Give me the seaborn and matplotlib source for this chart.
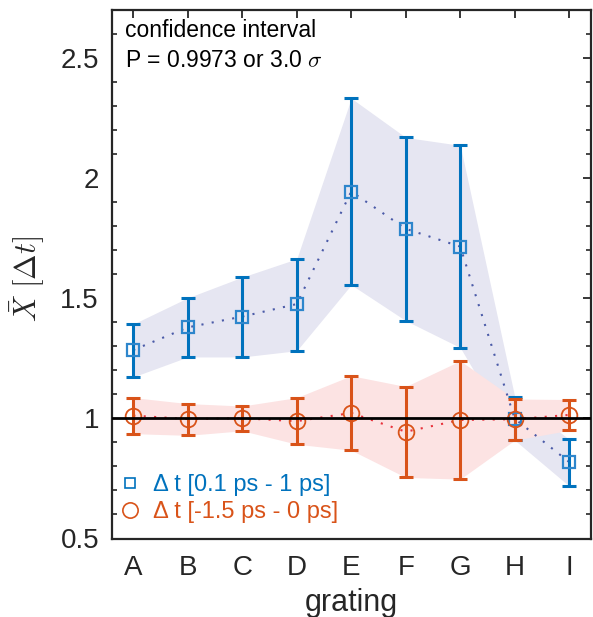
import numpy as np
import pandas as pd
import matplotlib
matplotlib.use("Agg")
import matplotlib.pyplot as plt
import seaborn as sns
from matplotlib.ticker import MultipleLocator

gratings = ["A", "B", "C", "D", "E", "F", "G", "H", "I"]
blue_mean = [1.284, 1.378, 1.423, 1.475, 1.943, 1.788, 1.714, 0.998, 0.818]
blue_low = [1.172, 1.255, 1.255, 1.281, 1.555, 1.406, 1.294, 0.909, 0.718]
blue_high = [1.392, 1.501, 1.587, 1.663, 2.331, 2.168, 2.135, 1.090, 0.912]
red_mean = [1.011, 0.997, 1.000, 0.988, 1.022, 0.944, 0.993, 0.996, 1.014]
red_low = [0.936, 0.929, 0.948, 0.892, 0.867, 0.754, 0.747, 0.909, 0.950]
red_high = [1.086, 1.061, 1.051, 1.086, 1.177, 1.132, 1.239, 1.080, 1.078]
label_blue = "\u0394 t [0.1 ps - 1 ps]"
label_red = "\u0394 t [-1.5 ps - 0 ps]"

sns.set_theme(style="white")
plt.rcParams["font.family"] = ["Liberation Sans", "DejaVu Sans"]
plt.rcParams["mathtext.fontset"] = "cm"

BLUE = "#0072BD"
RED = "#D95319"
TXT = "#262626"

x = np.arange(1, len(gratings) + 1)
df = pd.DataFrame({"x": np.concatenate([x, x]),
                   "y": blue_mean + red_mean,
                   "series": ["blue"] * len(x) + ["red"] * len(x)})

fig = plt.figure(figsize=(5.93, 6.17), dpi=100)
ax = fig.add_axes([111.5 / 593, 1 - 538.5 / 617, (591 - 111.5) / 593, (538.5 - 9.5) / 617])

ax.fill_between(x, blue_low, blue_high, color="#E6E6F2", lw=0, zorder=1)
ax.fill_between(x, red_low, red_high, color="#FCE3E3", lw=0, zorder=1.1)

sns.lineplot(data=df, x="x", y="y", hue="series",
             palette={"blue": "#4B5BA8", "red": "#E8323C"},
             linestyle=(0, (1, 4)), linewidth=1.5, legend=False, ax=ax, zorder=2)

bm = np.array(blue_mean)
rm = np.array(red_mean)
ax.errorbar(x, bm, yerr=[bm - np.array(blue_low), np.array(blue_high) - bm],
            fmt="none", ecolor=BLUE, elinewidth=2.2, capsize=5.3, capthick=2.2, zorder=3)
ax.errorbar(x, rm, yerr=[rm - np.array(red_low), np.array(red_high) - rm],
            fmt="none", ecolor=RED, elinewidth=2.2, capsize=5.3, capthick=2.2, zorder=3.1)
ax.plot(x, bm, ls="none", marker="s", ms=8.3, mfc="none", mec="#2E86CC", mew=1.6, zorder=4)
ax.plot(x, rm, ls="none", marker="o", ms=11.3, mfc="none", mec=RED, mew=1.3, zorder=4)

ax.axhline(1.0, color="black", lw=2, zorder=5)

# legend proxies
hb, = ax.plot([], [], ls="none", marker="s", ms=7.5, mfc="none", mec=BLUE, mew=1.2)
hr, = ax.plot([], [], ls="none", marker="o", ms=11, mfc="none", mec=RED, mew=1.2)
leg = ax.legend([hb, hr], [label_blue, label_red], loc="center left",
                bbox_to_anchor=((121 - 111.5) / 479.5, (538.5 - 498.5) / 529),
                frameon=False, fontsize=17, borderpad=0, borderaxespad=0,
                handlelength=0.75, handletextpad=0.6, labelspacing=0.22)
for t, c in zip(leg.get_texts(), [BLUE, RED]):
    t.set_color(c)

ax.text((125 - 111.5) / 479.5, (538.5 - 37) / 529, "confidence interval",
        transform=ax.transAxes, ha="left", va="baseline", fontsize=16.5, color="black")
ax.text((125 - 111.5) / 479.5, (538.5 - 67) / 529, "P = 0.9973 or 3.0 $\\sigma$",
        transform=ax.transAxes, ha="left", va="baseline", fontsize=16.5, color="black")

ax.set_xlim(0.6, 9.4)
ax.set_ylim(0.5, 2.7)
ax.set_xticks(x)
ax.set_xticklabels(gratings)
ax.set_yticks([0.5, 1, 1.5, 2, 2.5])
ax.set_yticklabels(["0.5", "1", "1.5", "2", "2.5"])
ax.yaxis.set_minor_locator(MultipleLocator(0.1))
ax.tick_params(axis="both", which="major", direction="in", length=6, width=1.3,
               labelsize=20, colors=TXT, top=True, right=True)
ax.tick_params(axis="x", which="major", pad=12)
ax.tick_params(axis="y", which="major", pad=9)
ax.tick_params(axis="y", which="minor", direction="in", length=3.5, width=1.2,
               left=True, right=True, colors=TXT)
ax.tick_params(axis="x", which="minor", bottom=False, top=False)
for s in ax.spines.values():
    s.set_visible(True)
    s.set_color(TXT)
    s.set_linewidth(1.6)

ax.set_xlabel("grating", fontsize=22, color=TXT, labelpad=5)
ax.set_ylabel(r"$\bar{X}\ [\Delta t]$", fontsize=22, color=TXT)
ax.yaxis.set_label_coords((47 - 111.5) / 479.5, 0.49)

fig.savefig("out.png", dpi=100)
